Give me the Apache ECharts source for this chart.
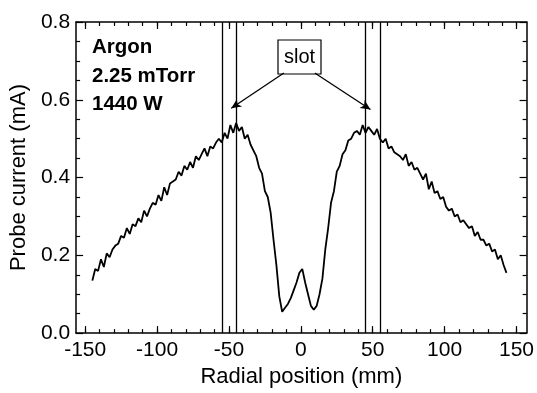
<!DOCTYPE html>
<html>
<head>
<meta charset="utf-8">
<script src="https://cdn.jsdelivr.net/npm/echarts@6/dist/echarts.min.js"></script>
<style>html,body{margin:0;padding:0;background:#fff;}#c{width:537px;height:393px;}</style>
</head>
<body>
<div id="c"></div>
<script>
// Radial positions (mm)
const positions = [-145,-143,-141,-139,-137,-135,-133,-131,-129,-127,-125,-123,-121,-119,-117,-115,-113,-111,-109,-107,-105,-103,-101,-99,-97,-95,-93,-91,-89,-87,-85,-83,-81,-79,-77,-75,-73,-71,-69,-67,-65,-63,-61,-59,-57,-55,-53,-51,-49,-47,-45,-43,-41,-39,-37,-35,-33,-31,-29,-27,-25,-23,-21,-19,-17,-15,-13,-11,-9,-7,-5,-3,-1,1,3,5,7,9,11,13,15,17,19,21,23,25,27,29,31,33,35,37,39,41,43,45,47,49,51,53,55,57,59,61,63,65,67,69,71,73,75,77,79,81,83,85,87,89,91,93,95,97,99,101,103,105,107,109,111,113,115,117,119,121,123,125,127,129,131,133,135,137,139,141,143];
// Probe current (mA)
const current = [0.135,0.165,0.16,0.19,0.17,0.205,0.195,0.215,0.225,0.23,0.25,0.245,0.27,0.255,0.28,0.275,0.295,0.285,0.315,0.3,0.32,0.335,0.33,0.355,0.34,0.375,0.355,0.385,0.39,0.395,0.415,0.405,0.43,0.42,0.44,0.425,0.455,0.445,0.46,0.475,0.455,0.48,0.475,0.49,0.5,0.49,0.515,0.5,0.535,0.515,0.54,0.52,0.53,0.5,0.51,0.485,0.47,0.455,0.425,0.41,0.365,0.35,0.31,0.24,0.175,0.095,0.055,0.065,0.075,0.09,0.11,0.13,0.155,0.165,0.13,0.1,0.07,0.06,0.07,0.1,0.14,0.215,0.27,0.335,0.365,0.415,0.43,0.46,0.47,0.495,0.5,0.515,0.52,0.51,0.535,0.515,0.53,0.52,0.51,0.525,0.5,0.49,0.5,0.475,0.48,0.465,0.46,0.455,0.445,0.46,0.43,0.44,0.42,0.425,0.41,0.395,0.41,0.37,0.39,0.36,0.365,0.345,0.35,0.325,0.315,0.32,0.3,0.305,0.285,0.29,0.28,0.27,0.275,0.25,0.26,0.24,0.24,0.225,0.23,0.21,0.215,0.19,0.2,0.175,0.155];
// Slot edges (mm)
const slotEdges = [-55,-45,45,55];
// Arrows: [tail, head] in data units
const arrows = [[[-11.8,0.669],[-48.4,0.578]],[[9.7,0.669],[48.4,0.575]]];
const xMajor = [-150,-100,-50,0,50,100,150];
const xMinor = [-150,-140,-130,-120,-110,-100,-90,-80,-70,-60,-50,-40,-30,-20,-10,0,10,20,30,40,50,60,70,80,90,100,110,120,130,140,150];
const infoLines = ['Argon','2.25 mTorr','1440 W'];
const slotLabel = 'slot';

const FONT = '"Liberation Sans", Arial, sans-serif';
const XMIN = -156.3, XMAX = 157;
const chart = echarts.init(document.getElementById('c'));

function xAx(pos, vals, len, labels, line) {
  return {
    type:'value', position:pos, min:XMIN, max:XMAX,
    axisLine:{show:line, onZero:false, lineStyle:{color:'#000', width:1.5}},
    axisTick:{show:true, inside:true, length:len, customValues:vals, lineStyle:{color:'#000', width:1.2}},
    axisLabel:{show:labels, customValues:vals, margin:7, color:'#000', fontSize:21, fontFamily:FONT},
    splitLine:{show:false},
    name: labels ? 'Radial position (mm)' : '',
    nameLocation:'middle', nameGap:32,
    nameTextStyle:{color:'#000', fontSize:22, fontFamily:FONT}
  };
}
function yAx(pos, labels) {
  return {
    type:'value', position:pos, min:0, max:0.8, interval:0.2,
    axisLine:{show:true, onZero:false, lineStyle:{color:'#000', width:1.5}},
    axisTick:{inside:true, length:7, lineStyle:{color:'#000', width:1.2}},
    minorTick:{show:true, splitNumber:4, length:4, lineStyle:{color:'#000', width:1.2}},
    axisLabel:{show:labels, formatter:v=>v.toFixed(1), color:'#000', fontSize:21, fontFamily:FONT, margin:6},
    splitLine:{show:false},
    name: labels ? 'Probe current (mA)' : '', nameLocation:'middle', nameGap:37,
    nameTextStyle:{color:'#000', fontSize:22, fontFamily:FONT}
  };
}

const data = positions.map((x,i)=>[x,current[i]]);

chart.setOption({
  animation:false,
  backgroundColor:'#fff',
  grid:{left:74, right:10, top:22, bottom:54},
  xAxis:[
    xAx('bottom', xMajor, 7, true, true),
    xAx('bottom', xMinor, 4, false, false),
    xAx('top', xMajor, 7, false, true),
    xAx('top', xMinor, 4, false, false)
  ],
  yAxis:[yAx('left', true), yAx('right', false)],
  series:[{
    type:'line', data:data, xAxisIndex:0, yAxisIndex:0,
    showSymbol:false, symbol:'none',
    lineStyle:{color:'#000', width:1.8},
    markLine:{
      silent:true, animation:false,
      symbol:['none','none'],
      label:{show:false},
      lineStyle:{color:'#000', width:1.3, type:'solid'},
      data: slotEdges.map(v=>({xAxis:v})).concat(
        arrows.map(a=>[
          {coord:a[0], symbol:'none'},
          {coord:a[1], symbol:'arrow', symbolSize:[7,10]}
        ]))
    }
  }],
  graphic:[
    ...infoLines.map((t,i)=>({type:'text', left:92, top:37+i*28.5,
      style:{text:t, font:'bold 20.5px '+FONT, fill:'#000'}})),
    {type:'rect', shape:{x:278, y:40, width:43, height:34},
     style:{fill:'#fff', stroke:'#000', lineWidth:1.2}},
    {type:'text', x:299.5, y:57, style:{text:slotLabel, font:'20px '+FONT, fill:'#000', align:'center', verticalAlign:'middle'}}
  ]
});
</script>
</body>
</html>
